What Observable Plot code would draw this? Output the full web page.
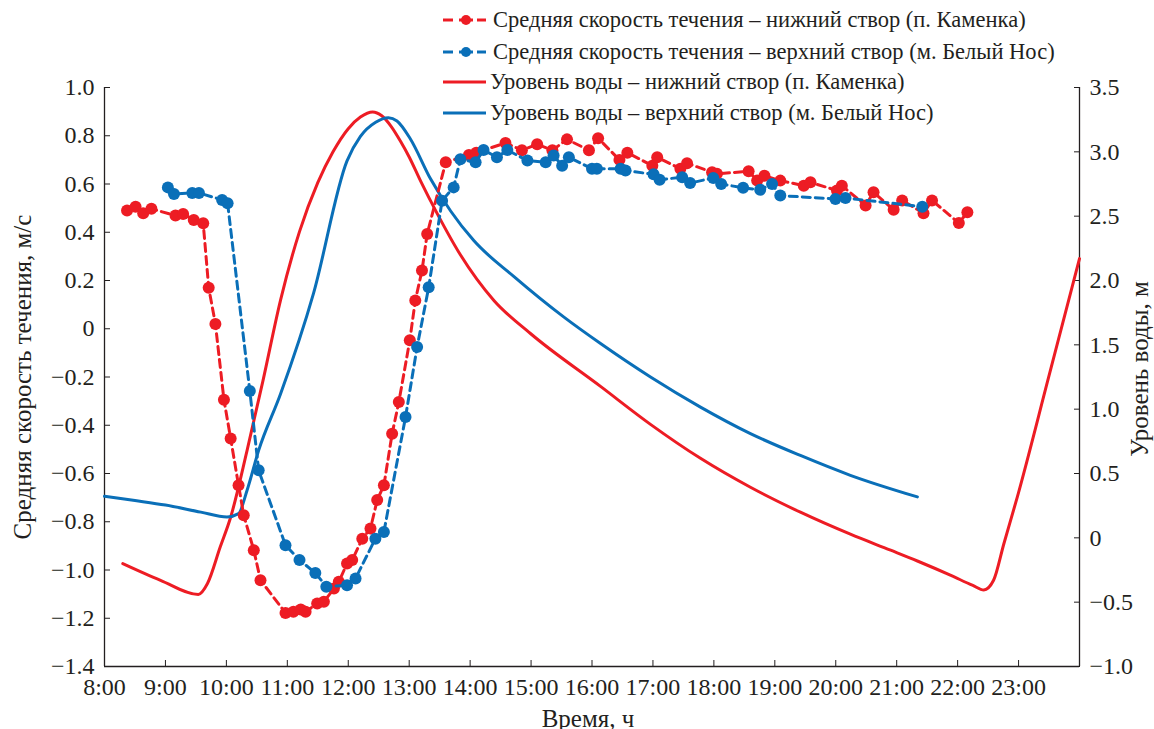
<!DOCTYPE html>
<html><head><meta charset="utf-8">
<script src="https://cdn.jsdelivr.net/npm/d3@7"></script>
<script src="https://cdn.jsdelivr.net/npm/@observablehq/plot@0.6"></script>
<style>
body{margin:0;background:#fff;font-family:"Liberation Serif","Times New Roman",Tinos,"DejaVu Serif","Noto Serif",FreeSerif,serif;color:#231f20}
#wrap{position:relative;width:1154px;height:729px;overflow:hidden;background:#fff}
.t{position:absolute;white-space:nowrap;line-height:1}
.leg{position:absolute;left:443px;height:24px;display:flex;align-items:center;font-size:22.5px;white-space:nowrap}
.leg svg{margin-right:7px}
</style></head><body><div id="wrap"></div>
<script>
// ---- data (time in hours) ----
const xTicks = [8,9,10,11,12,13,14,15,16,17,18,19,20,21,22,23];
const xTickLabels = ["8:00","9:00","10:00","11:00","12:00","13:00","14:00","15:00","16:00","17:00","18:00","19:00","20:00","21:00","22:00","23:00"];
const vTicks = [-1.4,-1.2,-1.0,-0.8,-0.6,-0.4,-0.2,0,0.2,0.4,0.6,0.8,1.0];
const levelTicks = [-1.0,-0.5,0,0.5,1.0,1.5,2.0,2.5,3.0,3.5];

const velLowerTime = [8.37,8.51,8.635,8.77,9.165,9.29,9.465,9.62,9.71,9.82,9.96,10.07,10.2,10.285,10.45,10.56,10.97,11.1,11.22,11.3,11.49,11.6,11.765,11.845,11.98,12.065,12.23,12.365,12.475,12.585,12.72,12.83,13.01,13.1,13.21,13.295,13.6,13.98,14.1,14.58,14.85,15.1,15.35,15.59,15.95,16.1,16.45,16.58,16.99,17.07,17.45,17.56,17.97,18.05,18.57,18.71,18.83,19.09,19.475,19.585,20.02,20.1,20.49,20.62,20.95,21.09,21.44,21.58,22.02,22.16];
const velLowerValue = [0.49,0.506,0.479,0.497,0.469,0.476,0.451,0.437,0.17,0.02,-0.294,-0.455,-0.649,-0.773,-0.918,-1.042,-1.178,-1.173,-1.164,-1.173,-1.139,-1.132,-1.077,-1.049,-0.973,-0.959,-0.87,-0.828,-0.71,-0.649,-0.435,-0.304,-0.048,0.117,0.241,0.393,0.69,0.72,0.73,0.77,0.74,0.765,0.74,0.785,0.74,0.79,0.70,0.73,0.676,0.711,0.663,0.686,0.649,0.642,0.653,0.614,0.634,0.614,0.593,0.607,0.573,0.593,0.511,0.566,0.493,0.532,0.479,0.532,0.438,0.483];

const velUpperTime = [9.04,9.14,9.44,9.55,9.93,10.02,10.385,10.53,10.97,11.2,11.46,11.64,11.98,12.12,12.445,12.585,12.94,13.13,13.32,13.54,13.73,13.84,14.09,14.22,14.44,14.61,14.94,15.24,15.37,15.51,15.62,16.0,16.08,16.47,16.55,17.01,17.11,17.48,17.61,17.99,18.12,18.48,18.76,18.955,19.09,19.995,20.16,21.42];
const velUpperValue = [0.586,0.559,0.563,0.563,0.534,0.52,-0.258,-0.587,-0.897,-0.959,-1.012,-1.069,-1.063,-1.035,-0.87,-0.842,-0.366,-0.076,0.172,0.531,0.586,0.703,0.69,0.741,0.711,0.741,0.697,0.69,0.718,0.676,0.711,0.663,0.663,0.663,0.656,0.64,0.618,0.628,0.604,0.625,0.6,0.584,0.576,0.6,0.552,0.538,0.542,0.506];

const levelLowerTime = [8.3,8.92,9.54,9.69,9.9,10.07,10.34,10.6,10.89,11.2,11.5,11.75,12.0,12.2,12.4,12.55,12.7,12.86,13.0,13.19,13.46,13.84,14.39,14.99,16.14,16.96,17.78,18.6,19.42,20.24,20.9,21.34,21.88,22.25,22.43,22.59,22.76,22.98,23.5,24.0];
const levelLowerValue = [-0.2,-0.33,-0.44,-0.355,-0.07,0.16,0.68,1.22,1.85,2.38,2.76,3.0,3.18,3.27,3.31,3.28,3.2,3.08,2.96,2.77,2.52,2.2,1.845,1.588,1.177,0.882,0.618,0.393,0.199,0.028,-0.096,-0.18,-0.29,-0.37,-0.405,-0.33,-0.044,0.318,1.26,2.17];

const levelUpperTime = [8.0,8.5,9.0,9.58,10.01,10.2,10.34,10.53,10.89,11.43,11.98,12.2,12.45,12.66,12.8,13.02,13.35,13.68,14.06,14.72,15.54,16.14,16.96,17.78,18.6,19.42,20.24,21.34];
const levelUpperValue = [0.323,0.29,0.255,0.2,0.162,0.188,0.37,0.68,1.12,1.9,2.93,3.12,3.23,3.265,3.24,3.1,2.79,2.54,2.31,2.03,1.715,1.51,1.25,1.016,0.81,0.64,0.486,0.318];

const seriesNames = [
  "Средняя скорость течения – нижний створ (п. Каменка)",
  "Средняя скорость течения – верхний створ (м. Белый Нос)",
  "Уровень воды – нижний створ (п. Каменка)",
  "Уровень воды – верхний створ (м. Белый Нос)"
];
const RED = "#ed1c24", BLUE = "#0a6fb8", INK = "#231f20";
const FONT = '"Liberation Serif","Times New Roman",Tinos,"DejaVu Serif","Noto Serif",FreeSerif,serif';

// ---- secondary axis mapping (level [-1,3.5] onto velocity [-1.4,1.0]) ----
const vDom = [-1.4, 1.0], lDom = [-1.0, 3.5];
const toV = L => vDom[0] + (L - lDom[0]) * (vDom[1]-vDom[0]) / (lDom[1]-lDom[0]);
const fromV = v => lDom[0] + (v - vDom[0]) * (lDom[1]-lDom[0]) / (vDom[1]-vDom[0]);
const fmt = x => { const r = Math.round(x*10)/10; return r === 0 ? "0" : r.toFixed(1).replace("-", "\u2212"); };

const zip = (T, V) => T.map((t, i) => ({t, v: V[i]}));
const velLower = zip(velLowerTime, velLowerValue);
const velUpper = zip(velUpperTime, velUpperValue);
const levLower = zip(levelLowerTime, levelLowerValue);
const levUpper = zip(levelUpperTime, levelUpperValue);

const chart = Plot.plot({
  width: 1154, height: 729,
  marginTop: 87, marginBottom: 63, marginLeft: 104, marginRight: 75,
  style: {fontFamily: FONT, fontSize: "24px", color: INK, background: "white", overflow: "visible"},
  x: {domain: [8, 24]},
  y: {domain: vDom},
  marks: [
    Plot.ruleX([8, 24], {stroke: INK, strokeWidth: 1.3}),
    Plot.ruleY([vDom[0]], {stroke: INK, strokeWidth: 1.3}),
    Plot.axisX({ticks: xTicks, tickFormat: (d) => xTickLabels[xTicks.indexOf(d)], tickSize: -6, tickPadding: 17, label: null, stroke: INK, fill: INK}),
    Plot.axisY({ticks: vTicks, tickFormat: fmt, tickSize: -6, tickPadding: 16, label: null, anchor: "left", stroke: INK, fill: INK}),
    Plot.axisY({ticks: levelTicks.map(toV), tickFormat: d => fmt(fromV(d)), tickSize: -6, tickPadding: 16, label: null, anchor: "right", stroke: INK, fill: INK}),
    Plot.line(levLower, {x: "t", y: d => toV(d.v), stroke: RED, strokeWidth: 3, curve: "monotone-x"}),
    Plot.line(levUpper, {x: "t", y: d => toV(d.v), stroke: BLUE, strokeWidth: 3, curve: "monotone-x"}),
    Plot.line(velLower, {x: "t", y: "v", stroke: RED, strokeWidth: 3, strokeDasharray: "8,5"}),
    Plot.dot(velLower, {x: "t", y: "v", r: 6, fill: RED}),
    Plot.line(velUpper, {x: "t", y: "v", stroke: BLUE, strokeWidth: 3, strokeDasharray: "8,5"}),
    Plot.dot(velUpper, {x: "t", y: "v", r: 6, fill: BLUE})
  ]
});
const wrap = document.getElementById("wrap");
chart.style.position = "absolute"; chart.style.left = "0"; chart.style.top = "0";
wrap.appendChild(chart);

// axis titles
function title(text, cx, cy, rot, size) {
  const d = document.createElement("div");
  d.className = "t"; d.textContent = text;
  d.style.left = cx + "px"; d.style.top = cy + "px"; d.style.fontSize = size + "px";
  d.style.transform = `translate(-50%,-50%)${rot ? ` rotate(${rot}deg)` : ""}`;
  wrap.appendChild(d);
}
title("Средняя скорость течения, м/с", 22, 377, -90, 25);
title("Уровень воды, м", 1139, 369, -90, 25);
title("Время, ч", 588, 718, 0, 25);

// legend
const legendColors = [RED, BLUE, RED, BLUE];
const legendDashed = [true, true, false, false];
const legendY = [20, 51.7, 81.7, 113.3];
seriesNames.forEach((name, i) => {
  const row = document.createElement("div");
  row.className = "leg";
  row.style.top = (legendY[i] - 12) + "px";
  const c = legendColors[i];
  const sw = legendDashed[i]
    ? `<line x1="0" y1="8" x2="10" y2="8" stroke="${c}" stroke-width="3"/><line x1="16" y1="8" x2="30" y2="8" stroke="${c}" stroke-width="3"/><line x1="34" y1="8" x2="43" y2="8" stroke="${c}" stroke-width="3"/><circle cx="23" cy="8" r="5" fill="${c}"/>`
    : `<line x1="0" y1="8" x2="43" y2="8" stroke="${c}" stroke-width="3.2"/>`;
  row.innerHTML = `<svg width="43" height="16">${sw}</svg><span>${name}</span>`;
  if (!legendDashed[i]) row.querySelector("svg").style.marginRight = "4px";
  wrap.appendChild(row);
});
</script>
</body></html>
